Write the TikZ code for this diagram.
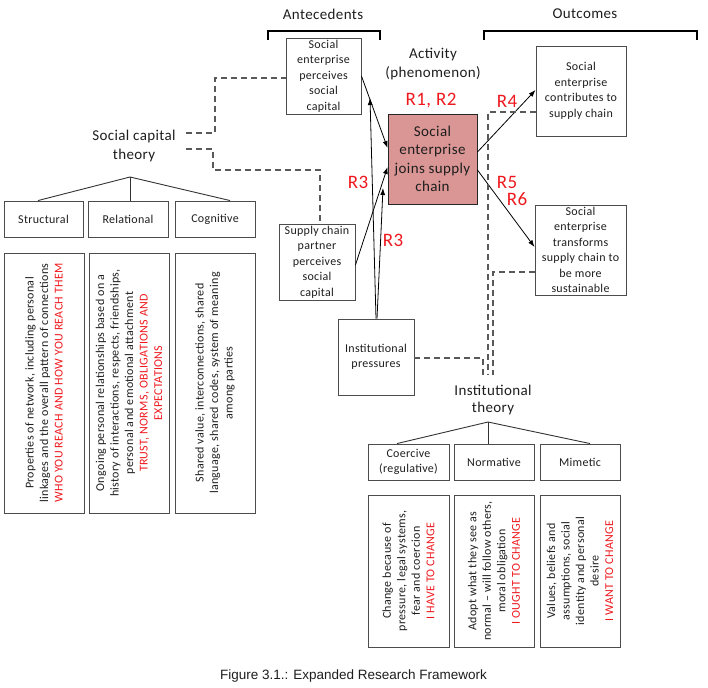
\documentclass[tikz,border=0pt]{standalone}
\usepackage{fontspec}
\setmainfont{Carlito}[LetterSpace=2.5]
\newfontfamily\capfont{Liberation Sans}
\usetikzlibrary{arrows.meta}
\definecolor{rred}{RGB}{238,25,30}
\definecolor{pinkfill}{RGB}{217,150,148}
\definecolor{txt}{RGB}{30,30,30}
\begin{document}
\begin{tikzpicture}[x=1pt,y=-1pt,
  box/.style={draw=black!70, line width=0.9pt, align=center, text=txt, inner sep=1pt,
    font=\fontsize{12}{15.5}\selectfont},
  rbox/.style={box, rotate=90, font=\fontsize{12}{14.5}\selectfont},
  lbl/.style={align=center, text=txt, font=\fontsize{15}{18.5}\selectfont},
  rlbl/.style={text=rred, font=\fontsize{19}{22}\selectfont},
  arr/.style={-{Latex[length=7pt,width=5pt]}, line width=0.8pt, black},
  dsh/.style={draw=black!65, line width=1.1pt, dash pattern=on 6pt off 4pt},
  treeln/.style={draw=black!80, line width=0.9pt},
  brk/.style={line width=2.6pt, black}
]
\useasboundingbox (0,0) rectangle (708,687);

% headings
\node[lbl] (ante) at (323,14) {Antecedents};
\node[lbl] (outc) at (585,14) {Outcomes};
\draw[brk] (268,40) -- (268,31) -- (380,31) -- (380,40);
\draw[brk] (484,40) -- (484,31) -- (697,31) -- (697,40);
\node[lbl] (act) at (433,64) {Activity\\(phenomenon)};

% main boxes
\node[box, minimum width=75pt, minimum height=76pt] (perc) at (323.5,76) {Social\\enterprise\\perceives\\social\\capital};
\node[box, draw=black!85, fill=pinkfill, minimum width=89pt, minimum height=90pt,
      font=\fontsize{15}{18.5}\selectfont] (main) at (432.5,159) {Social\\enterprise\\joins supply\\chain};
\node[box, minimum width=90pt, minimum height=90pt] (contrib) at (581,91) {Social\\enterprise\\contributes to\\supply chain};
\node[box, minimum width=91pt, minimum height=90pt] (transf) at (580.5,250) {Social\\enterprise\\transforms\\supply chain to\\be more\\sustainable};
\node[box, minimum width=76pt, minimum height=76pt] (scp) at (317,262) {Supply chain\\partner\\perceives\\social\\capital};
\node[box, minimum width=76pt, minimum height=76pt] (inst) at (376,357) {Institutional\\pressures};

% R labels
\node[rlbl] (r12) at (431,101) {R1, R2};
\node[rlbl] (r4) at (507,101) {R4};
\node[rlbl] (r3a) at (358,182) {R3};
\node[rlbl] (r3b) at (393,240) {R3};
\node[rlbl] (r5) at (507,182) {R5};
\node[rlbl] (r6) at (517,199) {R6};

% arrows
\coordinate (ia) at (383,188);
\coordinate (ib) at (370,98);
\draw[arr] (perc.east) -- ([yshift=11pt]main.west);
\draw[arr] ([yshift=-3pt]scp.east) -- ([yshift=-8pt]main.west);
\draw[arr] ([xshift=1pt]inst.north) -- (ia);
\draw[arr] (inst.north) -- (ib);
\draw[arr] ([yshift=7pt]main.east) -- ([yshift=1pt]contrib.west);
\draw[arr] ([yshift=-11pt]main.east) -- ([yshift=3pt]transf.west);

% social capital theory
\node[lbl] (sct) at (134,146) {Social capital\\theory};
\coordinate (sd1) at (186,133);
\coordinate (sd2) at (186,149);
\draw[dsh] (sd1) -- (215,133) |- ([yshift=-2pt]perc.west);
\draw[dsh] (sd2) -- (213,149) |- (320,170) -- ([xshift=3pt]scp.north);

\node[box, minimum width=79pt, minimum height=36pt] (struct) at (43.5,219) {Structural};
\node[box, minimum width=80pt, minimum height=36pt] (relat) at (128,219) {Relational};
\node[box, minimum width=80pt, minimum height=36pt] (cogn) at (215,219) {Cognitive};
\coordinate (sapex) at (130,177);
\draw[treeln] (sapex) -- ([xshift=-5.5pt]struct.north);
\draw[treeln] (sapex) -- ([xshift=2pt]relat.north);
\draw[treeln] (sapex) -- ([xshift=15pt]cogn.north);

\node[rbox, minimum width=260pt, minimum height=80pt] (structt) at (44,383)
  {Properties of network, including personal\\linkages and the overall pattern of connections\\{\color{rred}WHO YOU REACH AND HOW YOU REACH THEM}};
\node[rbox, minimum width=260pt, minimum height=80pt] (relatt) at (129,383)
  {Ongoing personal relationships based on a\\history of interactions, respects, friendships,\\personal and emotional attachment\\{\color{rred}TRUST, NORMS, OBLIGATIONS AND}\\{\color{rred}EXPECTATIONS}};
\node[rbox, minimum width=260pt, minimum height=80pt] (cognt) at (215,383)
  {Shared value, interconnections, shared\\language, shared codes, system of meaning\\among parties};

% institutional theory
\coordinate (c3) at (488,375);
\coordinate (c4) at (493,375);
\coordinate (c5) at (483,375);
\draw[dsh] ([yshift=-21pt]contrib.west) -| (c3);
\draw[dsh] ([yshift=-22pt]transf.west) -| (c4);
\draw[dsh] ([yshift=-1pt]inst.east) -| (c5);

\node[lbl, font=\fontsize{15}{17.5}\selectfont] (itt) at (493,400) {Institutional\\theory};
\node[box, minimum width=81pt, minimum height=36pt, font=\fontsize{12}{15}\selectfont] (coer) at (408.5,462) {Coercive\\(regulative)};
\node[box, minimum width=80pt, minimum height=36pt] (norm) at (494,462) {Normative};
\node[box, minimum width=80pt, minimum height=36pt] (mim) at (580,462) {Mimetic};
\coordinate (iapex) at (488,422);
\draw[treeln] (iapex) -- ([xshift=-11.5pt]coer.north);
\draw[treeln] (iapex) -- ([xshift=-6pt]norm.north);
\draw[treeln] (iapex) -- ([xshift=10pt]mim.north);

\node[rbox, minimum width=152pt, minimum height=81pt] (coert) at (408.5,571)
  {Change because of\\pressure, legal systems,\\fear and coercion\\{\color{rred}I HAVE TO CHANGE}};
\node[rbox, minimum width=152pt, minimum height=80pt] (normt) at (494,571)
  {Adopt what they see as\\normal -- will follow others,\\moral obligation\\{\color{rred}I OUGHT TO CHANGE}};
\node[rbox, minimum width=152pt, minimum height=80pt] (mimt) at (580,571)
  {Values, beliefs and\\assumptions, social\\identity and personal\\desire\\{\color{rred}I WANT TO CHANGE}};

% caption
\node[font=\capfont\fontsize{13.5}{16}\selectfont, text=txt] (cap) at (353.5,676) {Figure 3.1.: Expanded Research Framework};
\end{tikzpicture}
\end{document}
